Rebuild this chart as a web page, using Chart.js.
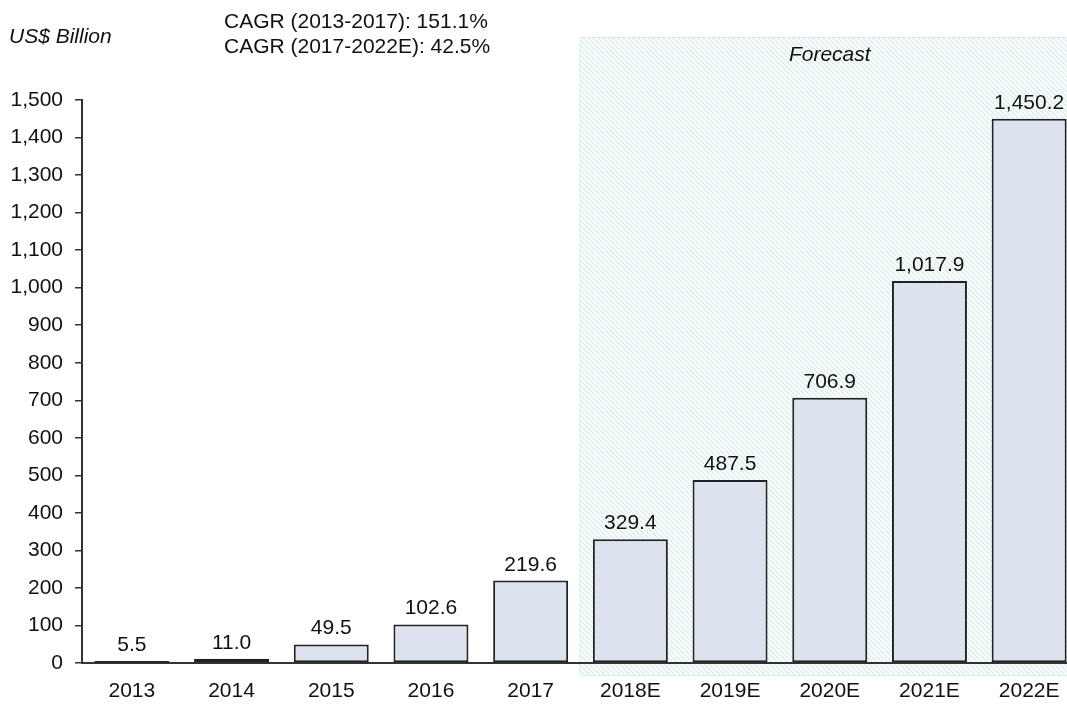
<!DOCTYPE html>
<html>
<head>
<meta charset="utf-8">
<script src="https://cdn.jsdelivr.net/npm/chart.js@4.4.1/dist/chart.umd.min.js"></script>
<style>
  html, body { margin: 0; padding: 0; background: #fff; overflow: hidden; }
  #wrap { width: 1067px; height: 705px; overflow: hidden; }
</style>
</head>
<body>
<div id="wrap"><canvas id="chart" width="1080" height="705"></canvas></div>
<script>
// données
const years = ['2013', '2014', '2015', '2016', '2017', '2018E', '2019E', '2020E', '2021E', '2022E'];
const values = [5.5, 11.0, 49.5, 102.6, 219.6, 329.4, 487.5, 706.9, 1017.9, 1450.2];
const unitLabel = 'US$ Billion';
const cagrLines = ['CAGR (2013-2017): 151.1%', 'CAGR (2017-2022E): 42.5%'];
const forecastLabel = 'Forecast';
const firstForecast = 5; // index of 2018E

const FONT = '"Liberation Sans", Arial, sans-serif';
const TEXT = '#111';

function fmt(v, d) {
    return v.toLocaleString('en-US', { minimumFractionDigits: d, maximumFractionDigits: d });
}

// motif hachuré pour la zone prévision
function makeHatch() {
    const c = document.createElement('canvas');
    c.width = 5; c.height = 5;
    const g = c.getContext('2d');
    g.strokeStyle = '#d3eded';
    g.lineWidth = 1.3;
    g.beginPath();
    [-5, 0, 5].forEach(o => { g.moveTo(o, 0); g.lineTo(o + 5, 5); });
    g.stroke();
    return c;
}

const decorPlugin = {
    id: 'decor',
    beforeDraw(chart) {
        const ctx = chart.ctx;
        const x = chart.scales.x;
        const left = (x.getPixelForValue(firstForecast - 1) + x.getPixelForValue(firstForecast)) / 2 - 1;
        const top = 37, bottom = 675, right = chart.width;
        ctx.save();
        ctx.fillStyle = ctx.createPattern(makeHatch(), 'repeat');
        ctx.fillRect(left, top, right - left, bottom - top);
        ctx.strokeStyle = '#d8eeee';
        ctx.lineWidth = 1;
        ctx.strokeRect(left + 0.5, top + 0.5, right - left, bottom - top);

        ctx.fillStyle = TEXT;
        ctx.textAlign = 'center';
        ctx.textBaseline = 'middle';
        ctx.font = 'italic 21px ' + FONT;
        ctx.fillText(forecastLabel, (left + right) / 2, 55);

        ctx.textAlign = 'left';
        ctx.fillText(unitLabel, 9, 37);
        ctx.font = '21px ' + FONT;
        ctx.fillText(cagrLines[0], 224, 22);
        ctx.fillText(cagrLines[1], 224, 47);
        ctx.restore();
    },
    afterDatasetsDraw(chart) {
        const ctx = chart.ctx;
        const meta = chart.getDatasetMeta(0);
        ctx.save();
        ctx.fillStyle = TEXT;
        ctx.font = '21px ' + FONT;
        ctx.textAlign = 'center';
        ctx.textBaseline = 'alphabetic';
        meta.data.forEach((bar, i) => {
            ctx.fillText(fmt(values[i], 1), bar.x, bar.y - 10);
        });
        ctx.restore();
    }
};

new Chart(document.getElementById('chart'), {
    type: 'bar',
    data: {
        labels: years,
        datasets: [{
            data: values,
            backgroundColor: '#dde3ee',
            borderColor: '#222',
            borderWidth: 2,
            borderSkipped: false,
            categoryPercentage: 1,
            barPercentage: 0.752
        }]
    },
    options: {
        responsive: false,
        animation: false,
        devicePixelRatio: 1,
        layout: { padding: { top: 100, left: 0, right: 1, bottom: 0 } },
        plugins: { legend: { display: false }, tooltip: { enabled: false } },
        scales: {
            x: {
                grid: { display: false, drawTicks: false },
                border: { display: true, color: '#333', width: 2 },
                ticks: { color: TEXT, font: { family: FONT, size: 21 }, padding: 16, maxRotation: 0 },
                afterFit(s) { s.height = 42; }
            },
            y: {
                min: 0,
                max: 1500,
                grid: { display: true, drawOnChartArea: false, drawTicks: true, tickLength: 7, color: '#333', lineWidth: 1.5 },
                border: { display: true, color: '#333', width: 2 },
                ticks: {
                    stepSize: 100,
                    color: TEXT,
                    font: { family: FONT, size: 21 },
                    padding: 12,
                    callback: v => fmt(v, 0)
                },
                afterFit(s) { s.width = 82; }
            }
        }
    },
    plugins: [decorPlugin]
});
</script>
</body>
</html>
